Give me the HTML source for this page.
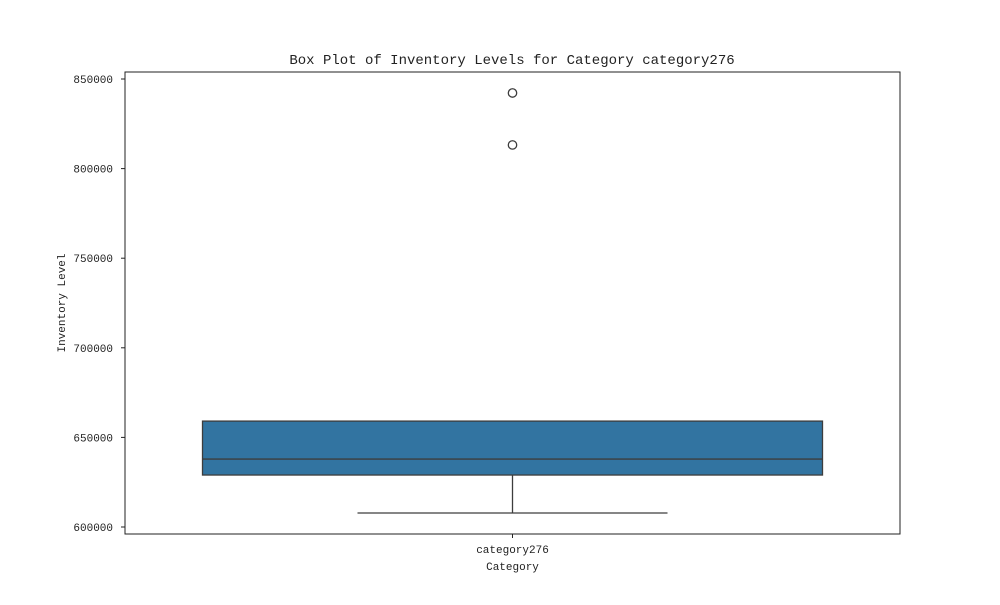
<!DOCTYPE html>
<html><head><meta charset="utf-8"><style>
body{margin:0;background:#fff}
svg text{font-family:"Liberation Mono","Noto Serif CJK SC",monospace;fill:#222}
</style></head><body>
<svg width="1000" height="600">
<rect x="0" y="0" width="1000" height="600" fill="#fff"/>
<text x="512" y="64" font-size="14" text-anchor="middle">Box Plot of Inventory Levels for Category category276</text>
<g id="yaxis"></g>
<g id="plot"></g>
<rect x="125" y="72" width="775" height="462" fill="none" stroke="#222" stroke-width="1"/>
<text x="512.5" y="553" font-size="11" text-anchor="middle">category276</text>
<line x1="512.5" y1="534" x2="512.5" y2="538" stroke="#222"/>
<text x="512.5" y="570" font-size="11" text-anchor="middle">Category</text>
<text transform="translate(65,303) rotate(-90)" font-size="11" text-anchor="middle">Inventory Level</text>
</svg>
<script>
const categories=["category276"];
const q1=[629000], median=[637900], q3=[659100], whiskerLow=[607800], whiskerHigh=[659100];
const outliers=[[842200,813200]];
const yTicks=[600000,650000,700000,750000,800000,850000];
const ns="http://www.w3.org/2000/svg";
function y(v){return 527-(v-600000)*448/250000;}
const xc=512.5, boxHalf=310, capHalf=155;
function mk(tag,attrs,parent){const e=document.createElementNS(ns,tag);for(const k in attrs)e.setAttribute(k,attrs[k]);parent.appendChild(e);return e;}
const ya=document.getElementById('yaxis'), pl=document.getElementById('plot');
yTicks.forEach(t=>{
  const l=mk('line',{x1:121,x2:125,y1:y(t),y2:y(t),stroke:'#222'},ya);
  
  
  const tx=mk('text',{x:113,y:y(t)+4,'font-size':11,'text-anchor':'end'},ya);
  tx.textContent=t;
  
  
});
categories.forEach((c,i)=>{
  const w1=mk('line',{x1:xc,x2:xc,y1:y(q1[i]),y2:y(whiskerLow[i]),stroke:'#3d3d3d','stroke-width':1.3},pl);
  
  
  const c1=mk('line',{x1:xc-capHalf,x2:xc+capHalf,y1:y(whiskerLow[i]),y2:y(whiskerLow[i]),stroke:'#3d3d3d','stroke-width':1.3},pl);
  
  
  const c2=mk('line',{x1:xc-capHalf,x2:xc+capHalf,y1:y(whiskerHigh[i]),y2:y(whiskerHigh[i]),stroke:'#3d3d3d','stroke-width':1.3},pl);
  
  
  const b=mk('rect',{x:xc-boxHalf,y:y(q3[i]),width:boxHalf*2,height:y(q1[i])-y(q3[i]),fill:'#3274a1',stroke:'#3d3d3d','stroke-width':1.3},pl);
  
  
  const m=mk('line',{x1:xc-boxHalf,x2:xc+boxHalf,y1:y(median[i]),y2:y(median[i]),stroke:'#3d3d3d','stroke-width':1.3},pl);
  
  
  outliers[i].forEach(o=>{
    const p=mk('circle',{cx:xc,cy:y(o),r:4.2,fill:'none',stroke:'#3d3d3d','stroke-width':1.3},pl);
    
    
  });
});
</script>
</body></html>
